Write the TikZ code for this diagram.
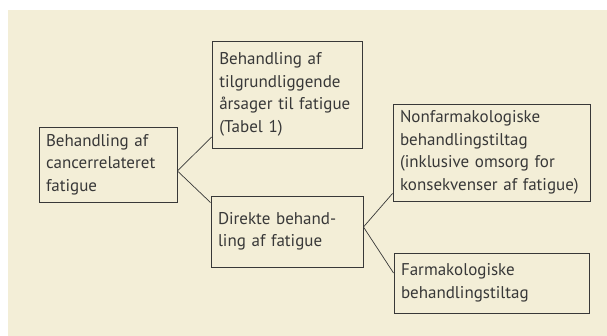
\documentclass[tikz,border=0pt]{standalone}
\usepackage{fontspec}
\setmainfont{PT Sans}
\definecolor{bg}{HTML}{F3EED7}
\definecolor{ink}{HTML}{383838}
\tikzset{
  box/.style={draw=ink, line width=0.9pt, text=ink, align=left, inner sep=0pt,
    font=\fontsize{17}{22.5}\selectfont},
}
\begin{document}
\begin{tikzpicture}[x=1pt,y=-1pt]
  \useasboundingbox (0,0) rectangle (607,336);
  \fill[bg] (8,10) rectangle (607,336);
  \draw
    (108,164.5) node[box, minimum width=138, minimum height=75, text width=124] (A)
      {Behandling af\\cancerrelateret\\fatigue}
    (287.25,94.5) node[box, minimum width=150.5, minimum height=107, text width=136] (B)
      {Behandling af\\tilgrundliggende\\årsager til fatigue\\(Tabel 1)}
    (287,231.5) node[box, minimum width=152, minimum height=71, text width=138] (C)
      {Direkte behand-\\ling af fatigue}
    (491.5,152.5) node[box, minimum width=197, minimum height=97, text width=183] (D)
      {Nonfarmakologiske\\behandlingstiltag\\(inklusive omsorg for\\konsekvenser af fatigue)}
    (491.5,283) node[box, minimum width=195, minimum height=60, text width=181] (E)
      {Farmakologiske\\behandlingstiltag};
  \begin{scope}[draw=ink, line width=0.7pt]
    \draw ([yshift=-6.5pt]A.east) to ([yshift=-42.5pt]B.west);
    \draw ([yshift=-6.5pt]A.east) to ([yshift=-7pt]C.north west);
    \draw ([yshift=4.5pt]C.east) to ([yshift=8pt]D.south west);
    \draw ([yshift=4.5pt]C.east) to ([yshift=10pt]E.west);
  \end{scope}
\end{tikzpicture}
\end{document}
